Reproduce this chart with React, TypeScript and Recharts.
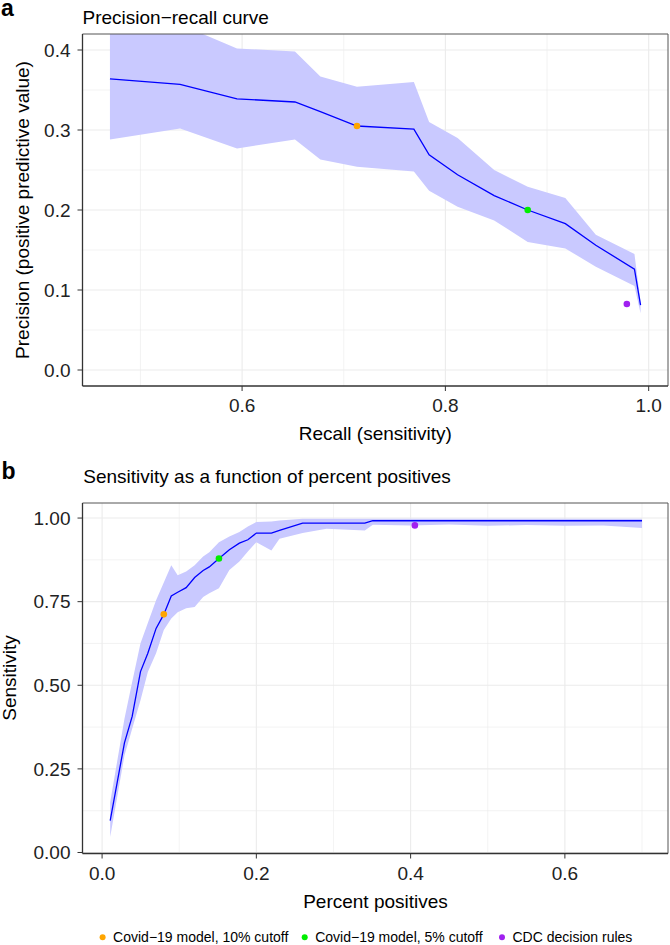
import React from 'react'
import {
  ComposedChart,
  Area,
  Line,
  Scatter,
  XAxis,
  YAxis,
  CartesianGrid,
  ReferenceLine,
} from 'recharts'

// panel a: precision-recall curve with ribbon
const recall = [0.47, 0.539, 0.595, 0.652, 0.677, 0.713, 0.769, 0.784, 0.812, 0.848, 0.881, 0.918, 0.948, 0.986, 0.992]
const precision = [0.364, 0.357, 0.339, 0.335, 0.323, 0.305, 0.301, 0.269, 0.244, 0.218, 0.2, 0.183, 0.156, 0.126, 0.081]
const precisionHigh = [0.46, 0.432, 0.402, 0.398, 0.367, 0.354, 0.36, 0.31, 0.29, 0.25, 0.229, 0.215, 0.169, 0.145, 0.085]
const precisionLow = [0.288, 0.302, 0.277, 0.288, 0.263, 0.254, 0.248, 0.224, 0.204, 0.187, 0.16, 0.152, 0.129, 0.105, 0.071]

// panel b: sensitivity vs percent positives
const positives = [0.0105, 0.029, 0.039, 0.0498, 0.0593, 0.07, 0.08, 0.0897, 0.098, 0.109, 0.12, 0.131, 0.139, 0.1515, 0.165, 0.178, 0.189, 0.2, 0.2195, 0.23, 0.26, 0.291, 0.3406, 0.351, 0.4, 0.45, 0.5, 0.55, 0.6, 0.65, 0.7]
const sensitivity = [0.095, 0.328, 0.407, 0.541, 0.596, 0.67, 0.712, 0.767, 0.778, 0.792, 0.822, 0.843, 0.854, 0.879, 0.905, 0.925, 0.935, 0.955, 0.955, 0.963, 0.985, 0.985, 0.985, 0.992, 0.992, 0.992, 0.992, 0.992, 0.992, 0.992, 0.992]
const sensitivityHigh = [0.15, 0.4, 0.51, 0.626, 0.686, 0.754, 0.807, 0.859, 0.829, 0.84, 0.859, 0.885, 0.898, 0.928, 0.945, 0.958, 0.975, 0.988, 0.99, 0.993, 0.998, 0.998, 0.998, 0.998, 0.998, 0.998, 0.998, 0.998, 0.998, 0.998, 0.998]
const sensitivityLow = [0.046, 0.29, 0.37, 0.455, 0.54, 0.596, 0.665, 0.7, 0.718, 0.73, 0.734, 0.764, 0.775, 0.79, 0.845, 0.87, 0.9, 0.928, 0.903, 0.938, 0.955, 0.968, 0.963, 0.98, 0.978, 0.981, 0.977, 0.979, 0.977, 0.978, 0.97]

// highlighted decision points
const markerLabels = ['Covid\u221219 model, 10% cutoff', 'Covid\u221219 model, 5% cutoff', 'CDC decision rules']
const markerRecall = [0.713, 0.881, 0.9785]
const markerPrecision = [0.305, 0.2, 0.0825]
const markerPositives = [0.08, 0.1515, 0.4055]
const markerSensitivity = [0.712, 0.879, 0.978]

const xTicksA = [0.6, 0.8, 1.0]
const yTicksA = [0.0, 0.1, 0.2, 0.3, 0.4]
const xMinorA = [0.5, 0.7, 0.9]
const yMinorA = [0.05, 0.15, 0.25, 0.35]
const xTicksB = [0.0, 0.2, 0.4, 0.6]
const yTicksB = [0.0, 0.25, 0.5, 0.75, 1.0]
const xMinorB = [0.1, 0.3, 0.5, 0.7]
const yMinorB = [0.125, 0.375, 0.625, 0.875]

const MARKER_COLORS = ['#FFA500', '#00EE00', '#A020F0']
const LEGEND_X = [102.6, 304.7, 502]
const FONT = '"Liberation Sans", Arial, Helvetica, sans-serif'
const BAND = '#C9C9FF'
const LINE = '#0000FF'
const GRID = '#EBEBEB'
const AXIS = '#333333'

const dataA = recall.map((r, i) => ({ x: r, y: precision[i], band: [precisionLow[i], precisionHigh[i]] }))
const dataB = positives.map((p, i) => ({ x: p, y: sensitivity[i], band: [sensitivityLow[i], sensitivityHigh[i]] }))
const pointsA = markerRecall.map((r, i) => [{ x: r, y: markerPrecision[i] }])
const pointsB = markerPositives.map((p, i) => [{ x: p, y: markerSensitivity[i] }])

const tickStyle = { fill: '#222', fontSize: 19, fontFamily: FONT }

const dot = (color: string) => (props: any) => <circle cx={props.cx} cy={props.cy} r={3.3} fill={color} />

export default function App() {
  return (
    <div style={{ position: 'relative', width: 670, height: 945, background: '#fff', fontFamily: FONT }}>
      <style>{'body{margin:0}'}</style>
      <div style={{ position: 'absolute', left: 0, top: 0 }}>
        <ComposedChart width={670} height={460} data={dataA} margin={{ top: 34, right: 2, left: 0, bottom: 0 }}>
          <CartesianGrid verticalValues={xMinorA} horizontalValues={yMinorA} stroke={GRID} strokeWidth={0.6} />
          <CartesianGrid verticalValues={xTicksA} horizontalValues={yTicksA} stroke={GRID} strokeWidth={1.1} />
          <XAxis type="number" dataKey="x" domain={[0.443, 1.019]} ticks={xTicksA} allowDataOverflow
            tickFormatter={(v: number) => v.toFixed(1)} tick={tickStyle} tickSize={5} tickMargin={8}
            tickLine={{ stroke: AXIS }} axisLine={{ stroke: AXIS, strokeWidth: 1.3 }} height={74} />
          <YAxis type="number" domain={[-0.02, 0.42]} ticks={yTicksA} allowDataOverflow
            tickFormatter={(v: number) => v.toFixed(1)} tick={tickStyle} tickSize={5} tickMargin={7}
            tickLine={{ stroke: AXIS }} axisLine={{ stroke: AXIS, strokeWidth: 1.3 }} width={82.5} />
          <Area dataKey="band" type="linear" stroke="none" fill={BAND} fillOpacity={1} isAnimationActive={false} />
          <Line dataKey="y" type="linear" stroke={LINE} strokeWidth={1.3} dot={false} activeDot={false} isAnimationActive={false} />
          {pointsA.map((pt, i) => (
            <Scatter key={i} data={pt} dataKey="y" shape={dot(MARKER_COLORS[i])} isAnimationActive={false} />
          ))}
          <ReferenceLine y={0.42} stroke="#555" />
          <ReferenceLine x={1.019} stroke="#555" />
        </ComposedChart>
      </div>
      <div style={{ position: 'absolute', left: 0, top: 460 }}>
        <ComposedChart width={670} height={485} data={dataB} margin={{ top: 43, right: 2, left: 0, bottom: 0 }}>
          <CartesianGrid verticalValues={xMinorB} horizontalValues={yMinorB} stroke={GRID} strokeWidth={0.6} />
          <CartesianGrid verticalValues={xTicksB} horizontalValues={yTicksB} stroke={GRID} strokeWidth={1.1} />
          <XAxis type="number" dataKey="x" domain={[-0.0254, 0.7337]} ticks={xTicksB} allowDataOverflow
            tickFormatter={(v: number) => v.toFixed(1)} tick={tickStyle} tickSize={5} tickMargin={8}
            tickLine={{ stroke: AXIS }} axisLine={{ stroke: AXIS, strokeWidth: 1.3 }} height={91.5} />
          <YAxis type="number" domain={[-0.003, 1.045]} ticks={yTicksB} allowDataOverflow
            tickFormatter={(v: number) => v.toFixed(2)} tick={tickStyle} tickSize={5} tickMargin={7}
            tickLine={{ stroke: AXIS }} axisLine={{ stroke: AXIS, strokeWidth: 1.3 }} width={82.5} />
          <Area dataKey="band" type="linear" stroke="none" fill={BAND} fillOpacity={1} isAnimationActive={false} />
          <Line dataKey="y" type="linear" stroke={LINE} strokeWidth={1.3} dot={false} activeDot={false} isAnimationActive={false} />
          {pointsB.map((pt, i) => (
            <Scatter key={i} data={pt} dataKey="y" shape={dot(MARKER_COLORS[i])} isAnimationActive={false} />
          ))}
          <ReferenceLine y={1.045} stroke="#555" />
          <ReferenceLine x={0.7337} stroke="#555" />
        </ComposedChart>
      </div>
      <svg width={670} height={945} style={{ position: 'absolute', left: 0, top: 0, pointerEvents: 'none' }} fontFamily={FONT}>
        <text x={1} y={16} fontSize={23} fontWeight="bold" fill="#000">a</text>
        <text x={82.5} y={23.5} fontSize={19} fill="#000">Precision{'\u2212'}recall curve</text>
        <text transform="translate(29,210) rotate(-90)" textAnchor="middle" fontSize={19} fill="#000">
          Precision (positive predictive value)
        </text>
        <text x={375.3} y={439.5} textAnchor="middle" fontSize={19} fill="#000">Recall (sensitivity)</text>

        <text x={1.5} y={479} fontSize={23} fontWeight="bold" fill="#000">b</text>
        <text x={83.3} y={482.5} fontSize={19} fill="#000">Sensitivity as a function of percent positives</text>
        <text transform="translate(16,678) rotate(-90)" textAnchor="middle" fontSize={19} fill="#000">Sensitivity</text>
        <text x={375.5} y={908} textAnchor="middle" fontSize={19} fill="#000">Percent positives</text>

        {markerLabels.map((label, i) => (
          <g key={label}>
            <circle cx={LEGEND_X[i]} cy={937.3} r={3} fill={MARKER_COLORS[i]} />
            <text x={LEGEND_X[i] + 10.5} y={942} fontSize={14} fill="#000">{label}</text>
          </g>
        ))}
      </svg>
    </div>
  )
}
